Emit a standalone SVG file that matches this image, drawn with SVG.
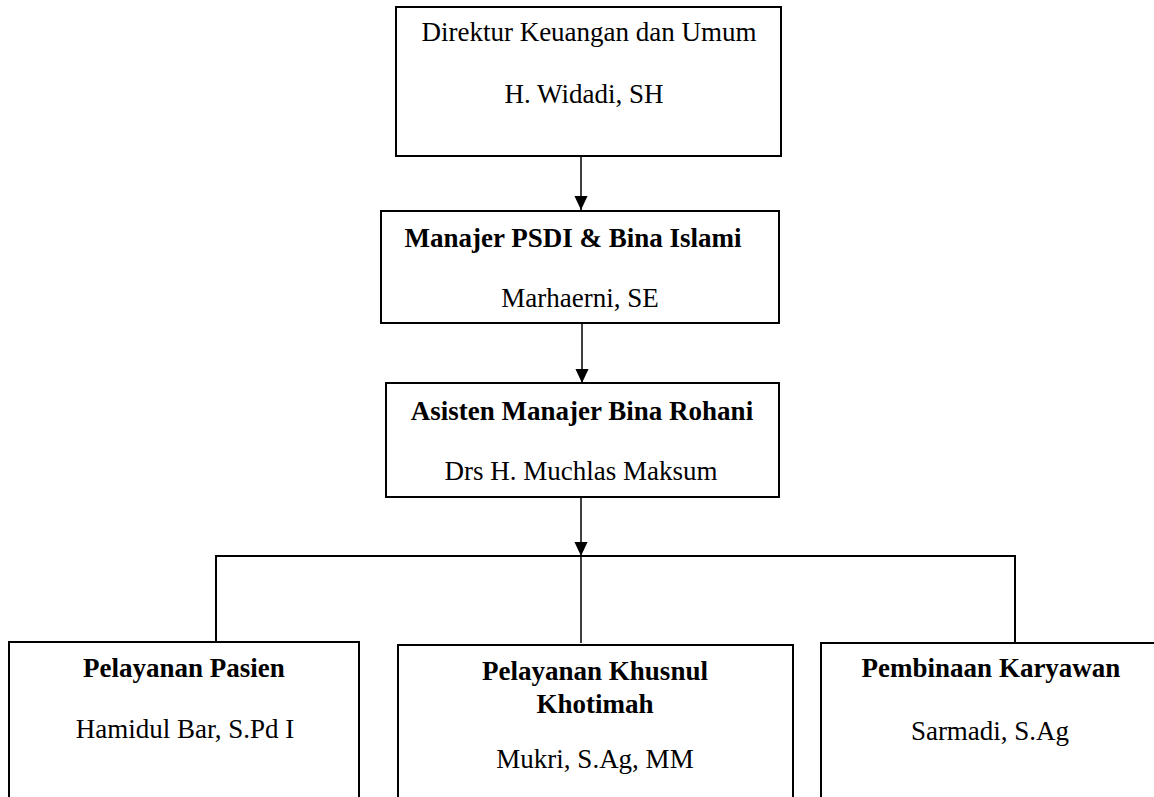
<svg xmlns="http://www.w3.org/2000/svg" width="1154" height="797" viewBox="0 0 1154 797">
<style>
.box{fill:#fff;stroke:#000;stroke-width:2}
.t{font-family:"Liberation Serif","Times New Roman",serif;font-size:27px;fill:#000;text-anchor:middle}
.b{font-weight:bold}
.c{fill:none;stroke:#000;stroke-width:1.5}
</style>
<defs>
<marker id="ah" markerUnits="userSpaceOnUse" markerWidth="14" markerHeight="15" refX="15" refY="7" orient="auto" viewBox="0 0 15 14">
<path d="M0,0 L15,7 L0,14 Z" fill="#000"/>
</marker>
</defs>
<rect width="1154" height="797" fill="#fff"/>
<g id="connectors">
<line class="c" x1="581" y1="156" x2="581" y2="210" marker-end="url(#ah)"/>
<line class="c" x1="582" y1="323" x2="582" y2="383" marker-end="url(#ah)"/>
<line class="c" x1="581" y1="497" x2="581" y2="556" marker-end="url(#ah)"/>
<polyline class="c" points="216,642 216,556 1015,556 1015,643" style="stroke-width:2"/>
<line class="c" x1="581" y1="556" x2="581" y2="643"/>
</g>
<g id="n-direktur">
<rect class="box" x="396" y="7" width="385" height="149"/>
<text class="t" x="589" y="41">Direktur Keuangan dan Umum</text>
<text class="t" x="584" y="103">H. Widadi, SH</text>
</g>
<g id="n-manajer">
<rect class="box" x="381" y="211" width="398" height="112"/>
<text class="t b" x="573" y="247">Manajer PSDI &amp; Bina Islami</text>
<text class="t" x="580" y="307">Marhaerni, SE</text>
</g>
<g id="n-asisten">
<rect class="box" x="386" y="383" width="393" height="114"/>
<text class="t b" x="582" y="420">Asisten Manajer Bina Rohani</text>
<text class="t" x="581" y="480">Drs H. Muchlas Maksum</text>
</g>
<g id="n-pasien">
<rect class="box" x="9" y="642" width="350" height="170"/>
<text class="t b" x="184" y="677">Pelayanan Pasien</text>
<text class="t" x="185" y="738">Hamidul Bar, S.Pd I</text>
</g>
<g id="n-khusnul">
<rect class="box" x="398" y="645" width="395" height="170"/>
<text class="t b" x="595" y="680">Pelayanan Khusnul</text>
<text class="t b" x="595" y="713">Khotimah</text>
<text class="t" x="595" y="768">Mukri, S.Ag, MM</text>
</g>
<g id="n-karyawan">
<rect class="box" x="821" y="643" width="345" height="170"/>
<text class="t b" x="991" y="677">Pembinaan Karyawan</text>
<text class="t" x="990" y="740">Sarmadi, S.Ag</text>
</g>
</svg>
